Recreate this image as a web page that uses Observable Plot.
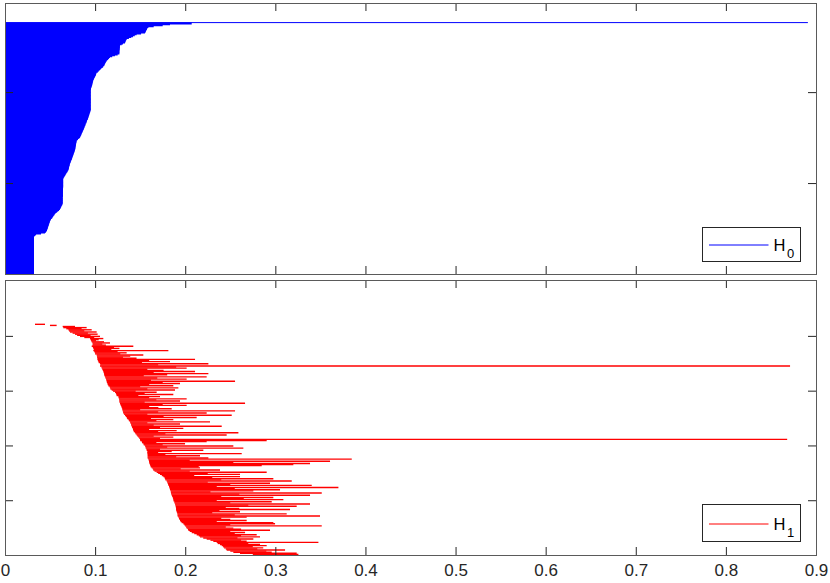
<!DOCTYPE html>
<html><head><meta charset="utf-8">
<script src="https://cdn.jsdelivr.net/npm/d3@7"></script>
<script src="https://cdn.jsdelivr.net/npm/@observablehq/plot@0.6"></script>
<style>
body{margin:0;background:#fff;font-family:"Liberation Sans",Arial,sans-serif}
#wrap{position:relative;width:830px;height:583px;overflow:hidden}
#wrap svg{display:block}
.leg{position:absolute;left:0;top:0}
</style></head><body><div id="wrap"></div>
<script>
// ---------- data ----------
const xTicks = [0, 0.1, 0.2, 0.3, 0.4, 0.5, 0.6, 0.7, 0.8, 0.9];
const xTickLabels = ["0", "0.1", "0.2", "0.3", "0.4", "0.5", "0.6", "0.7", "0.8", "0.9"];
const h0YTicks = [100, 200];
const h1YTicks = [50, 100, 150, 200];
const h0YMax = 298;
const h1YMax = 251;
const legendLabels = ["H", "H"];
const legendSubs = ["0", "1"];

// H0: all bars are born at 0; the essential (infinite) bar is drawn to h0InfDeath
const h0Birth = 0;
const h0InfDeath = 0.891;
// deaths of the finite H0 bars, listed top to bottom
const h0Death = [
0.2072,0.1831,0.175,0.165,0.1591,0.158,0.1575,0.157,0.1565,0.156,
0.1554,0.151,0.1461,0.144,0.142,0.14,0.1375,0.135,0.1345,0.134,
0.1335,0.1332,0.131,0.1295,0.1276,
0.1275,0.1274,0.1273,0.1272,0.1271,0.127,0.1269,0.1269,0.1269,
0.125,0.122,0.119,0.1165,0.1155,0.1145,0.1135,0.1128,
0.112,0.1115,0.111,0.1105,0.11,0.109,0.1084,
0.107,0.106,0.105,0.104,0.103,
0.1017,
0.1012,0.101,0.1006,
0.1,0.0995,0.099,0.0985,0.098,0.0978,0.0975,0.0972,0.097,0.0968,0.0965,0.0962,
0.0958,0.0955,0.0953,0.0951,
0.0951,0.0951,0.0951,0.0951,0.0951,0.0951,0.0951,0.0951,0.0951,0.0951,0.0951,
0.0951,0.0951,0.0951,0.0951,0.0951,0.0951,0.0951,0.0951,0.0951,0.0951,0.0951,
0.0948,0.0945,0.0942,0.0938,0.0935,0.0932,0.0928,0.0925,
0.0922,0.0919,0.0912,0.091,0.0904,0.0903,0.0896,0.0893,0.089,0.0884,0.0882,0.0876,0.0873,0.0869,
0.0864,0.086,0.0855,0.0851,0.0846,0.0842,0.0837,0.0832,
0.082,0.081,0.0802,0.0795,
0.0793,0.0791,0.0789,0.0788,0.0786,0.0784,0.0782,0.078,0.0779,0.0777,
0.0773,0.077,0.0766,0.0763,0.0759,0.0755,0.0752,0.0748,0.0744,0.0741,0.0737,0.0733,0.0729,0.0725,0.0721,
0.0718,0.0716,0.0713,0.071,0.0708,0.0705,0.0703,
0.0697,0.0691,0.0684,0.0678,0.0672,0.0666,0.066,0.0653,0.0647,
0.0645,0.0645,0.0645,0.0645,0.0645,0.0645,0.0645,0.0645,0.0645,0.0645,
0.0643,0.0643,0.0643,0.0643,0.0643,0.0643,0.0643,0.0643,0.0643,0.0643,
0.064,0.064,0.064,0.064,0.064,0.064,0.064,0.064,
0.0635,0.063,0.0625,0.062,0.0615,
0.061,0.06,0.059,0.0578,0.0566,0.0555,
0.0548,0.0541,0.0534,0.0527,0.052,0.051,0.0505,
0.05,
0.0497,0.0493,0.049,0.0487,0.0483,0.048,0.0476,0.0473,0.047,0.0466,
0.0462,0.0455,0.0444,
0.04,0.0345,0.0333,
0.0322,0.0322,0.0322,0.0322,0.0322,0.0322,0.0322,0.0322,0.0322,0.0322,
0.0322,0.0322,0.0322,0.0322,0.0322,0.0322,0.0322,0.0322,0.0322,0.0322,
0.0322,0.0322,0.0322,0.0322,0.0322,0.0322,0.0322,0.0322,0.0322,0.0322,
0.0322,0.0322,0.0322,0.0322,0.0322,0.0322,0.0322,0.0322,0.0322,0.0322,
0.0322,0.0322
];

// H1 bars, listed top to bottom
const h1Birth = [
0.0333,0.0499,0.064,0.0647,0.068,0.0703,0.071,0.0721,0.075,0.0777,
0.080,0.0832,0.088,0.0943,0.095,0.0955,0.0962,0.097,0.0975,0.097,
0.0962,0.0975,0.098,0.0985,0.098,0.099,0.0999,0.100,0.1017,0.102,
0.1022,0.1025,0.1025,0.103,0.1036,0.104,0.1054,0.106,0.1054,0.107,
0.1073,0.108,0.1085,0.1091,0.1095,0.1099,0.110,0.1105,0.111,0.1115,
0.1121,0.1125,0.1128,0.113,0.1136,0.114,0.1147,0.116,0.1165,0.117,
0.1184,0.120,0.1221,0.123,0.1235,0.1239,0.1258,0.126,0.1265,0.1267,
0.1269,0.127,0.1276,0.128,0.1284,0.129,0.1295,0.130,0.1303,0.1306,
0.131,0.1313,0.132,0.1332,0.134,0.135,0.1355,0.1369,0.1375,0.1387,
0.139,0.1398,0.140,0.1406,0.141,0.1417,0.142,0.1424,0.143,0.1443,
0.145,0.1461,0.147,0.148,0.149,0.1498,0.150,0.1517,0.152,0.1535,
0.154,0.1554,0.156,0.1561,0.157,0.1572,0.158,0.1578,0.158,0.1582,
0.1583,0.1583,0.1583,0.1591,0.1595,0.1598,0.160,0.1602,0.1609,0.1612,
0.1617,0.1628,0.164,0.1646,0.166,0.1683,0.170,0.172,0.174,0.1757,
0.177,0.1776,0.178,0.1794,0.180,0.1805,0.181,0.1813,0.182,0.1824,
0.1828,0.1831,0.1839,0.184,0.1842,0.1845,0.185,0.1855,0.1861,0.1865,
0.1868,0.187,0.1879,0.188,0.1887,0.189,0.1894,0.1896,0.1898,0.1898,
0.190,0.1905,0.191,0.1913,0.1915,0.1916,0.1924,0.193,0.1935,0.1942,
0.195,0.1961,0.1979,0.199,0.1998,0.201,0.2016,0.203,0.2035,0.205,
0.2072,0.210,0.2127,0.215,0.2164,0.220,0.2238,0.228,0.2312,0.2349,
0.236,0.2386,0.2405,0.242,0.2431,0.245,0.246,0.250,0.2534,0.2608,0.275
];
const h1Death = [
0.0444,0.0573,0.0777,0.0906,0.085,0.0962,0.088,0.1017,0.092,0.1028,
0.095,0.1054,0.099,0.1091,0.104,0.101,0.1099,0.1165,0.108,0.112,
0.1424,0.121,0.127,0.118,0.1813,0.125,0.135,0.128,0.1535,0.139,
0.131,0.146,0.2109,0.160,0.1831,0.152,0.2257,0.170,0.8712,0.190,
0.2016,0.158,0.176,0.2109,0.165,0.2257,0.180,0.154,0.2238,0.169,
0.2016,0.162,0.2553,0.175,0.1942,0.160,0.1868,0.150,0.1924,0.158,
0.1887,0.145,0.1683,0.155,0.1868,0.148,0.172,0.160,0.2016,0.168,
0.1942,0.155,0.2664,0.175,0.2016,0.160,0.1702,0.185,0.150,0.2553,
0.170,0.2238,0.158,0.2516,0.176,0.2127,0.162,0.1868,0.168,0.2275,
0.158,0.1942,0.165,0.2405,0.172,0.1979,0.160,0.1905,0.170,0.259,
0.178,0.246,0.165,0.1868,0.172,0.868,0.2904,0.2238,0.168,0.1998,
0.175,0.2534,0.180,0.2645,0.172,0.2201,0.185,0.170,0.2627,0.178,
0.2164,0.190,0.2257,0.3848,0.205,0.3607,0.2534,0.3385,0.320,0.2849,
0.215,0.2164,0.195,0.2386,0.205,0.2904,0.225,0.2608,0.210,0.2608,
0.230,0.2978,0.240,0.3182,0.225,0.2941,0.250,0.3404,0.235,0.370,
0.255,0.3052,0.2756,0.228,0.3515,0.260,0.3385,0.240,0.2978,0.265,
0.3089,0.235,0.296,0.250,0.3385,0.270,0.3237,0.245,0.260,0.3163,
0.238,0.2608,0.230,0.3126,0.255,0.3496,0.2682,0.240,0.250,0.2682,
0.235,0.2978,0.2997,0.250,0.3515,0.245,0.2534,0.262,0.2941,0.250,
0.2664,0.255,0.2793,0.262,0.283,0.258,0.2756,0.262,0.2682,0.3478,
0.270,0.283,0.2904,0.275,0.2866,0.280,0.3108,0.290,0.296,0.3237,0.3256
];

// ---------- tables ----------
const nH0 = h0Death.length + 1;
const h0Inf = [{k: nH0, birth: h0Birth, death: h0InfDeath}];
const h0Bars = h0Death.map((d, i) => ({k: nH0 - 1 - i, birth: h0Birth, death: d}));
const nH1 = h1Birth.length;
const h1Bars = h1Birth.map((b, i) => ({k: nH1 - i, birth: b, death: h1Death[i]}));

// ---------- layout ----------
const W = 830, ML = 5, MR = 14;
const AX = "#262626", FR = "#5a5a5a", TL = 8;

function panel({bars, extra, color, yMax, yTicks, height, mt, mb, labels, sw}) {
  const pw = W - ML - MR, ph = height - mt - mb;
  const marks = [
    Plot.ruleY(bars, {y: "k", x1: "birth", x2: "death", stroke: color, strokeWidth: sw}),
    extra ? Plot.ruleY(extra, {y: "k", x1: "birth", x2: "death", stroke: color, strokeWidth: 1}) : null,
    Plot.ruleX(xTicks, {x: d => d, insetTop: ph - TL, stroke: AX}),
    Plot.ruleX(xTicks, {x: d => d, insetBottom: ph - TL, stroke: AX}),
    Plot.ruleY(yTicks, {y: d => d, insetRight: pw - TL, stroke: AX}),
    Plot.ruleY(yTicks, {y: d => d, insetLeft: pw - TL, stroke: AX}),
    Plot.frame({stroke: FR})
  ];
  if (labels) {
    marks.push(Plot.text(xTicks, {x: d => d, text: (d, i) => xTickLabels[i], frameAnchor: "bottom", dy: 20, fontSize: 17, fill: "#262626"}));
  }
  return Plot.plot({
    width: W, height,
    marginLeft: ML, marginRight: MR, marginTop: mt, marginBottom: mb,
    x: {domain: [0, 0.9], axis: null},
    y: {domain: [0, yMax], axis: null},
    style: {fontFamily: "'Liberation Sans', Arial, sans-serif", background: "white", overflow: "visible"},
    marks
  });
}

const wrap = document.getElementById("wrap");
wrap.appendChild(panel({bars: h0Bars, extra: h0Inf, color: "#0000ff", yMax: h0YMax, yTicks: h0YTicks, height: 277, mt: 3, mb: 3, labels: false, sw: 1.9}));
wrap.appendChild(panel({bars: h1Bars, color: "#ff0000", yMax: h1YMax, yTicks: h1YTicks, height: 306, mt: 3, mb: 28, labels: true, sw: 1.4}));

// ---------- legends (inside each panel, lower right) ----------
const legends = [
  {top: 227.5, h: 34, color: "#0000ff"},
  {top: 504.5, h: 37, color: "#ff0000"}
];
const ov = d3.create("svg").attr("class", "leg").attr("width", W).attr("height", 583)
  .style("position", "absolute").style("left", "0px").style("top", "0px");
legends.forEach((L, i) => {
  const g = ov.append("g").attr("transform", `translate(702.5,${L.top})`);
  g.append("rect").attr("width", 98).attr("height", L.h).attr("fill", "white").attr("stroke", AX).attr("stroke-width", 1);
  const ly = Math.round(L.h / 2) + 0.5;
  g.append("line").attr("x1", 6.5).attr("x2", 66).attr("y1", ly).attr("y2", ly).attr("stroke", L.color).attr("stroke-width", 1);
  const t = g.append("text").attr("x", 71).attr("y", ly + 6).attr("font-family", "'Liberation Sans', Arial, sans-serif").attr("font-size", 16.5).attr("fill", "#000");
  t.append("tspan").text(legendLabels[i]);
  t.append("tspan").attr("font-size", 13).attr("dy", 7).attr("dx", 1.5).text(legendSubs[i]);
});
wrap.appendChild(ov.node());
</script></body></html>
